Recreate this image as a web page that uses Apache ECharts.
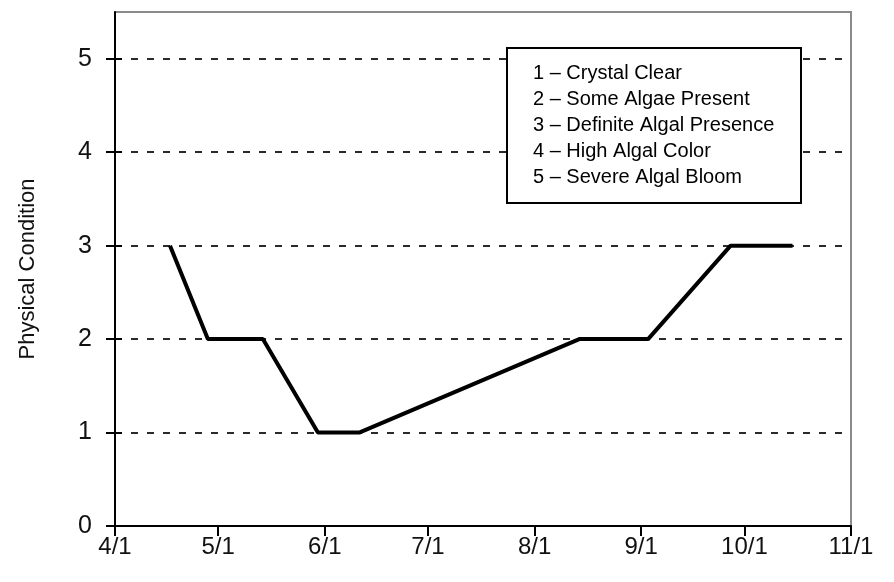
<!DOCTYPE html>
<html>
<head>
<meta charset="utf-8">
<script src="https://cdn.jsdelivr.net/npm/echarts@6/dist/echarts.min.js"></script>
<style>html,body{margin:0;padding:0;background:#fff;}#c{width:894px;height:582px;}</style>
</head>
<body>
<div id="c"></div>
<script>
// Data
const year = 2000;
const dates = ['4/17','4/28','5/14','5/30','6/11','8/14','9/3','9/27','10/15'];
const condition = [3, 2, 2, 1, 1, 2, 2, 3, 3];
const xTickLabels = ['4/1','5/1','6/1','7/1','8/1','9/1','10/1','11/1'];
const yTicks = [0, 1, 2, 3, 4, 5];
const legendLines = [
  '1 \u2013 Crystal Clear',
  '2 \u2013 Some Algae Present',
  '3 \u2013 Definite Algal Presence',
  '4 \u2013 High Algal Color',
  '5 \u2013 Severe Algal Bloom'
];
const yName = 'Physical Condition';

function dayOffset(md) {
  const [m, d] = md.split('/').map(Number);
  return (Date.UTC(year, m - 1, d) - Date.UTC(year, 3, 1)) / 864e5;
}
const tickDays = xTickLabels.map(dayOffset);
const labelByDay = {};
xTickLabels.forEach((l, i) => { labelByDay[tickDays[i]] = l; });
const seriesData = dates.map((d, i) => [dayOffset(d), condition[i]]);

const font = 'Liberation Sans, Arial, sans-serif';
const chart = echarts.init(document.getElementById('c'), null, {renderer: 'canvas'});
chart.setOption({
  animation: false,
  backgroundColor: '#fff',
  grid: {left: 115, right: 43, top: 12, bottom: 56, show: true, borderColor: '#8a8a8a', borderWidth: 2, containLabel: false},
  xAxis: {
    type: 'value',
    min: tickDays[0],
    max: tickDays[tickDays.length - 1],
    axisLine: {show: true, lineStyle: {color: '#000', width: 2}},
    axisTick: {show: true, customValues: tickDays, length: 10, lineStyle: {color: '#000', width: 2}},
    axisLabel: {customValues: tickDays, formatter: v => labelByDay[v] || '', color: '#111', fontSize: 24, fontFamily: font, margin: 9},
    splitLine: {show: false}
  },
  yAxis: [{
    type: 'value',
    min: 0,
    max: 5.5,
    interval: 1,
    name: yName,
    nameLocation: 'middle',
    nameGap: 76,
    nameRotate: 90,
    nameTextStyle: {color: '#111', fontSize: 22, fontFamily: font},
    axisLine: {show: true, lineStyle: {color: '#000', width: 2}},
    axisTick: {show: true, customValues: yTicks, length: 9, lineStyle: {color: '#000', width: 2}},
    axisLabel: {customValues: yTicks, formatter: v => String(v), color: '#111', fontSize: 25, fontFamily: font, margin: 23},
    splitLine: {show: true, lineStyle: {color: ['rgba(0,0,0,0)', '#2a2a2a', '#2a2a2a', '#2a2a2a', '#2a2a2a', '#2a2a2a', 'rgba(0,0,0,0)'], width: 2, type: [7, 9]}}
  }, {
    type: 'value',
    position: 'left',
    min: 0,
    max: 5.5,
    interval: 1,
    axisLine: {show: false},
    axisTick: {show: true, inside: true, customValues: yTicks, length: 7, lineStyle: {color: '#000', width: 2}},
    axisLabel: {show: false},
    splitLine: {show: false}
  }],
  series: [{
    type: 'line',
    data: seriesData,
    symbol: 'none',
    lineStyle: {color: '#000', width: 4},
    z: 3
  }],
  graphic: [
    {type: 'rect', left: 506, top: 47, z: 100, shape: {width: 294, height: 155}, style: {fill: '#fff', stroke: '#000', lineWidth: 2}},
    {type: 'text', left: 533, top: 60, z: 101, style: {text: legendLines.join('\n'), font: '20px ' + font, fill: '#000', lineHeight: 26}}
  ]
});
</script>
</body>
</html>
